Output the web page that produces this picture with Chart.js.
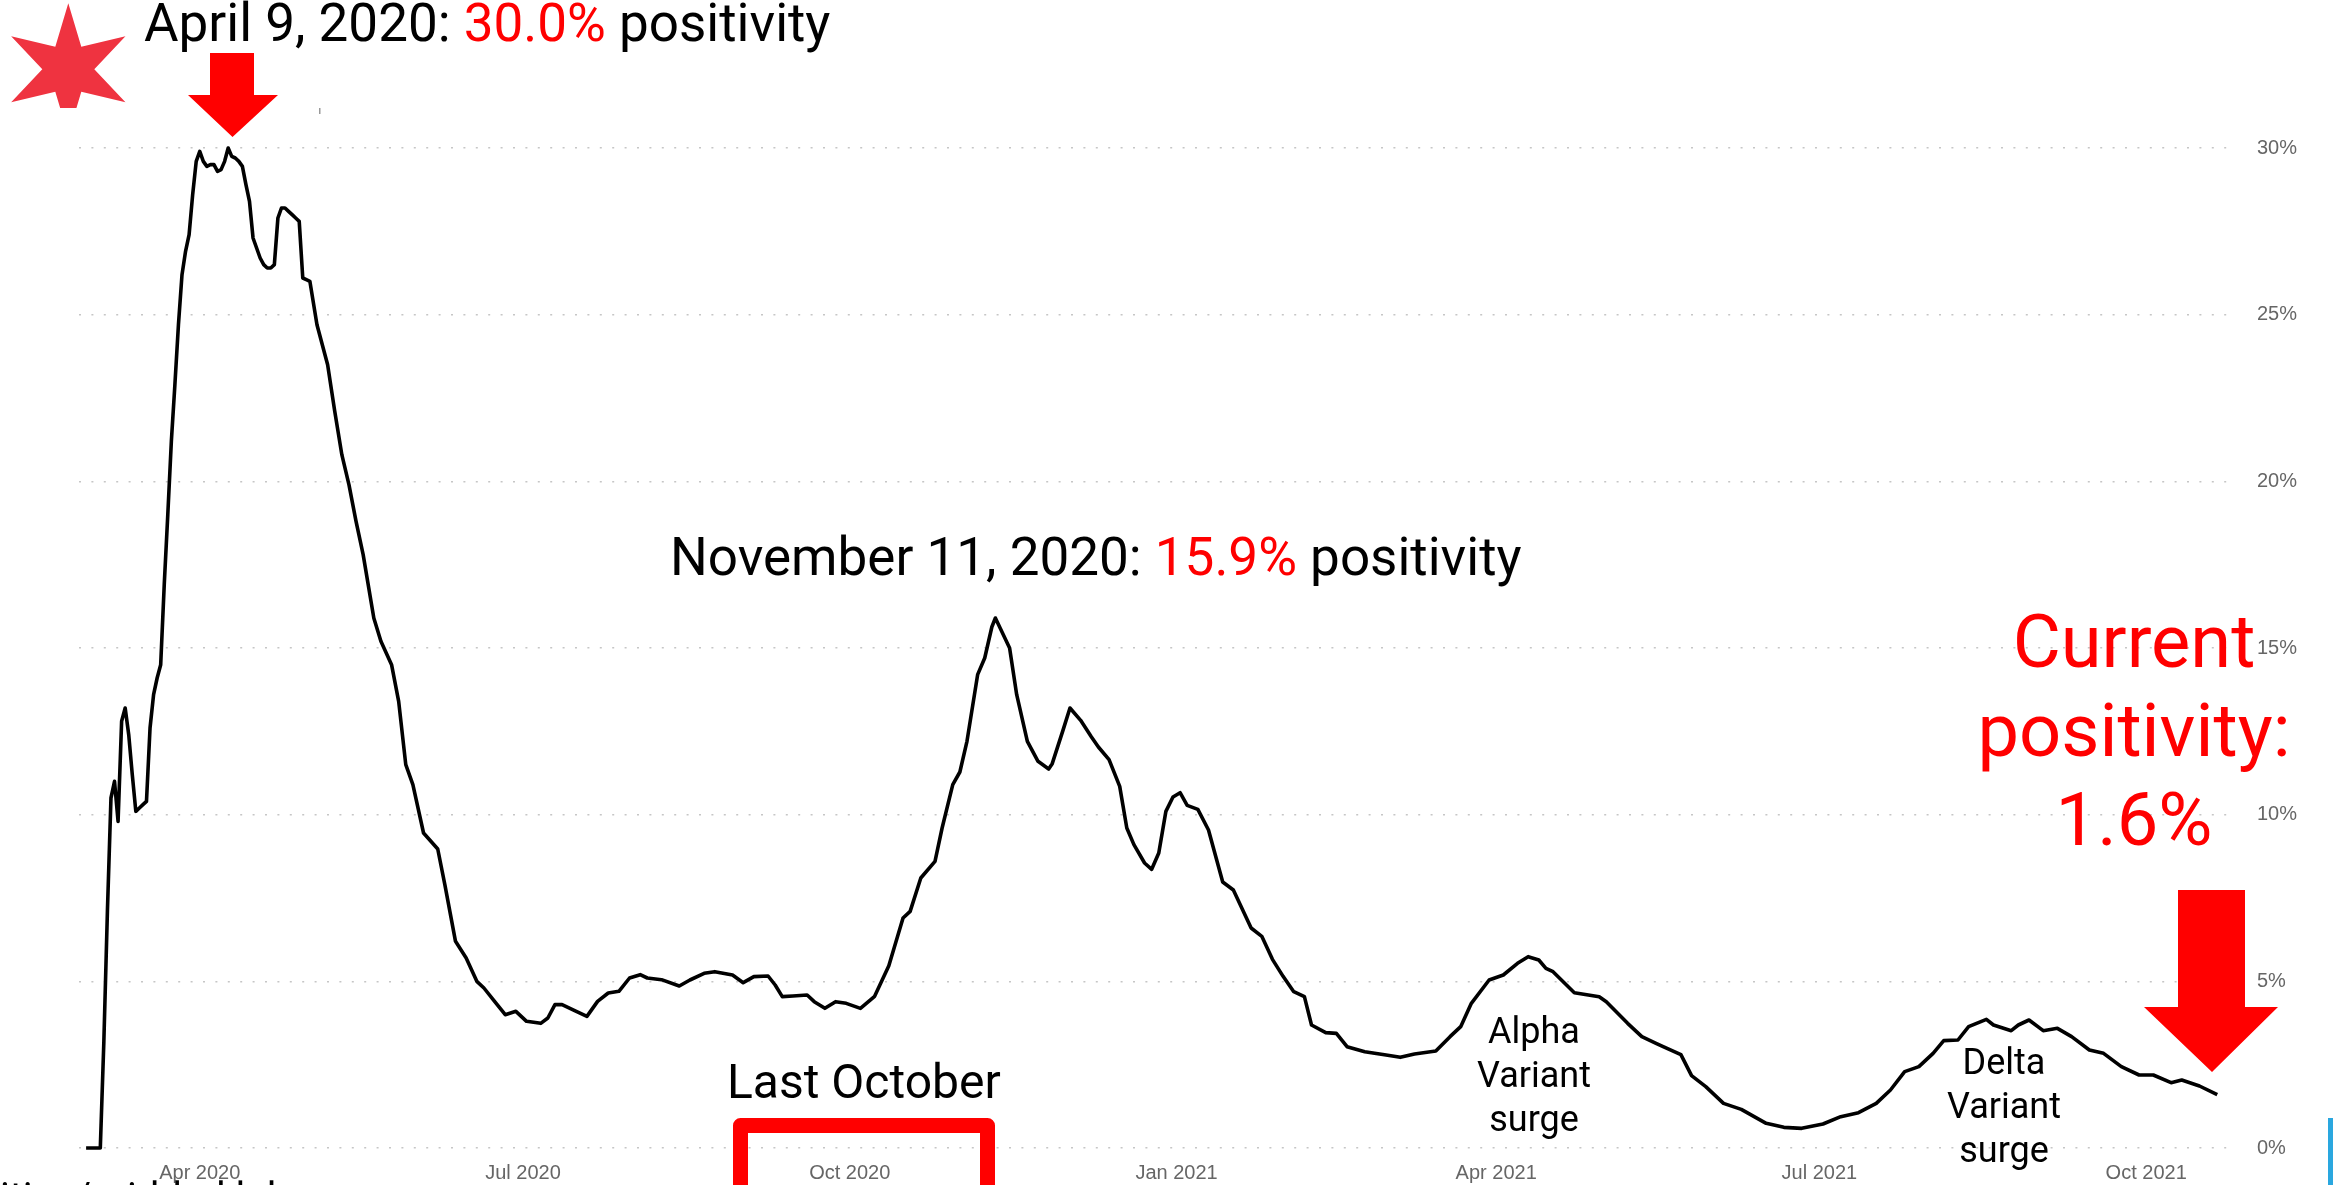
<!DOCTYPE html>
<html>
<head>
<meta charset="utf-8">
<title>Chicago COVID-19 test positivity</title>
<script src="https://cdn.jsdelivr.net/npm/chart.js@4.4.1/dist/chart.umd.min.js"></script>
<style>
    html, body { margin: 0; padding: 0; background: #fff; overflow: hidden; }
    #wrap { position: relative; width: 2333px; height: 1185px; }
</style>
</head>
<body>
<div id="wrap"><canvas id="positivityChart" width="2333" height="1185"></canvas></div>
<script>
// 7-day rolling test positivity (%)
const dates = [
    '2020-02-29', '2020-03-04', '2020-03-05', '2020-03-06', '2020-03-07', '2020-03-08', '2020-03-09',
    '2020-03-10', '2020-03-11', '2020-03-12', '2020-03-13', '2020-03-14', '2020-03-15', '2020-03-16',
    '2020-03-17', '2020-03-18', '2020-03-19', '2020-03-20', '2020-03-21', '2020-03-22', '2020-03-23',
    '2020-03-24', '2020-03-25', '2020-03-26', '2020-03-27', '2020-03-28', '2020-03-29', '2020-03-30',
    '2020-03-31', '2020-04-01', '2020-04-02', '2020-04-03', '2020-04-04', '2020-04-05', '2020-04-06',
    '2020-04-07', '2020-04-08', '2020-04-09', '2020-04-10', '2020-04-11', '2020-04-12', '2020-04-13',
    '2020-04-14', '2020-04-15', '2020-04-16', '2020-04-17', '2020-04-18', '2020-04-19', '2020-04-20',
    '2020-04-21', '2020-04-22', '2020-04-23', '2020-04-24', '2020-04-25', '2020-04-26', '2020-04-27',
    '2020-04-28', '2020-04-29', '2020-04-30', '2020-05-01', '2020-05-02', '2020-05-04', '2020-05-07',
    '2020-05-09', '2020-05-11', '2020-05-13', '2020-05-15', '2020-05-17', '2020-05-20', '2020-05-22',
    '2020-05-25', '2020-05-27', '2020-05-29', '2020-05-31', '2020-06-03', '2020-06-07', '2020-06-09',
    '2020-06-12', '2020-06-15', '2020-06-18', '2020-06-20', '2020-06-23', '2020-06-26', '2020-06-29',
    '2020-07-02', '2020-07-06', '2020-07-08', '2020-07-10', '2020-07-12', '2020-07-16', '2020-07-19',
    '2020-07-22', '2020-07-25', '2020-07-28', '2020-07-31', '2020-08-03', '2020-08-05', '2020-08-09',
    '2020-08-14', '2020-08-17', '2020-08-21', '2020-08-24', '2020-08-29', '2020-09-01', '2020-09-04',
    '2020-09-08', '2020-09-10', '2020-09-12', '2020-09-15', '2020-09-19', '2020-09-21', '2020-09-24',
    '2020-09-27', '2020-09-30', '2020-10-04', '2020-10-08', '2020-10-12', '2020-10-16', '2020-10-18',
    '2020-10-21', '2020-10-25', '2020-10-27', '2020-10-30', '2020-11-01', '2020-11-03', '2020-11-06',
    '2020-11-08', '2020-11-10', '2020-11-11', '2020-11-13', '2020-11-15', '2020-11-17', '2020-11-20',
    '2020-11-23', '2020-11-26', '2020-11-27', '2020-11-30', '2020-12-02', '2020-12-05', '2020-12-08',
    '2020-12-10', '2020-12-13', '2020-12-16', '2020-12-18', '2020-12-20', '2020-12-23', '2020-12-25',
    '2020-12-27', '2020-12-29', '2020-12-31', '2021-01-02', '2021-01-04', '2021-01-07', '2021-01-10',
    '2021-01-14', '2021-01-17', '2021-01-22', '2021-01-25', '2021-01-28', '2021-01-31', '2021-02-03',
    '2021-02-06', '2021-02-08', '2021-02-12', '2021-02-15', '2021-02-18', '2021-02-23', '2021-03-01',
    '2021-03-05', '2021-03-09', '2021-03-15', '2021-03-19', '2021-03-22', '2021-03-25', '2021-03-30',
    '2021-04-03', '2021-04-07', '2021-04-10', '2021-04-13', '2021-04-15', '2021-04-17', '2021-04-23',
    '2021-04-30', '2021-05-02', '2021-05-08', '2021-05-12', '2021-05-16', '2021-05-18', '2021-05-23',
    '2021-05-26', '2021-05-30', '2021-06-04', '2021-06-09', '2021-06-16', '2021-06-21', '2021-06-26',
    '2021-07-02', '2021-07-07', '2021-07-12', '2021-07-17', '2021-07-21', '2021-07-25', '2021-07-29',
    '2021-08-02', '2021-08-05', '2021-08-09', '2021-08-12', '2021-08-17', '2021-08-19', '2021-08-24',
    '2021-08-26', '2021-08-29', '2021-09-02', '2021-09-06', '2021-09-10', '2021-09-15', '2021-09-19',
    '2021-09-24', '2021-09-29', '2021-10-03', '2021-10-08', '2021-10-11', '2021-10-16', '2021-10-21'
];

const positivity = [
    0, 0, 3.2, 7.1, 10.5, 11.0, 9.8,
    12.8, 13.2, 12.4, 11.2, 10.1, 10.2, 10.3,
    10.4, 12.6, 13.6, 14.1, 14.5, 16.9, 19.0,
    21.2, 22.9, 24.7, 26.2, 26.9, 27.4, 28.6,
    29.6, 29.9, 29.6, 29.45, 29.5, 29.5, 29.3,
    29.35, 29.6, 30.0, 29.75, 29.7, 29.6, 29.45,
    28.9, 28.4, 27.3, 27.0, 26.7, 26.5, 26.4,
    26.4, 26.5, 27.9, 28.2, 28.2, 28.1, 28.0,
    27.9, 27.8, 26.1, 26.05, 26.0, 24.7, 23.5,
    22.1, 20.8, 19.9, 18.8, 17.8, 15.9, 15.2,
    14.5, 13.4, 11.5, 10.9, 9.45, 8.97, 7.9,
    6.2, 5.7, 5.0, 4.8, 4.4, 4.0, 4.1,
    3.8, 3.74, 3.9, 4.3, 4.3, 4.1, 3.95,
    4.4, 4.65, 4.7, 5.1, 5.2, 5.1, 5.05,
    4.86, 5.04, 5.24, 5.29, 5.19, 4.96, 5.14,
    5.16, 4.89, 4.54, 4.56, 4.59, 4.39, 4.19,
    4.39, 4.34, 4.19, 4.55, 5.47, 6.9, 7.1,
    8.1, 8.6, 9.6, 10.9, 11.28, 12.2, 14.2,
    14.7, 15.63, 15.9, 15.45, 15.0, 13.6, 12.2,
    11.6, 11.37, 11.53, 12.52, 13.2, 12.83, 12.34,
    12.03, 11.65, 10.85, 9.6, 9.1, 8.55, 8.36,
    8.85, 10.1, 10.53, 10.66, 10.28, 10.16, 9.54,
    7.98, 7.74, 6.6, 6.35, 5.66, 5.15, 4.69,
    4.54, 3.69, 3.46, 3.44, 3.04, 2.89, 2.79,
    2.72, 2.82, 2.91, 3.34, 3.64, 4.34, 5.04,
    5.19, 5.54, 5.74, 5.64, 5.39, 5.29, 4.66,
    4.54, 4.39, 3.74, 3.34, 3.14, 3.04, 2.8,
    2.17, 1.84, 1.34, 1.16, 0.74, 0.62, 0.59,
    0.72, 0.94, 1.06, 1.34, 1.74, 2.29, 2.44,
    2.84, 3.22, 3.24, 3.64, 3.86, 3.69, 3.52,
    3.69, 3.84, 3.52, 3.59, 3.34, 2.94, 2.84,
    2.44, 2.19, 2.19, 1.96, 2.04, 1.86, 1.6
];

const tickDates = ['2020-04-01', '2020-07-01', '2020-10-01', '2021-01-01', '2021-04-01', '2021-07-01', '2021-10-01'];
const tickLabels = ['Apr 2020', 'Jul 2020', 'Oct 2020', 'Jan 2021', 'Apr 2021', 'Jul 2021', 'Oct 2021'];
const axisStart = '2020-02-27';
const axisEnd = '2021-10-26';

const DAY = 86400000;
const origin = Date.parse('2020-04-01');
const dayOf = s => (Date.parse(s) - origin) / DAY;

const RED = '#ff0000';

function drawRuns(ctx, x, y, runs) {
    runs.forEach(([text, color]) => {
        ctx.fillStyle = color;
        ctx.fillText(text, x, y);
        x += ctx.measureText(text).width;
    });
}

function drawPoly(ctx, pts, color) {
    ctx.beginPath();
    pts.forEach(([x, y], i) => i ? ctx.lineTo(x, y) : ctx.moveTo(x, y));
    ctx.closePath();
    ctx.fillStyle = color;
    ctx.fill();
}

// callouts drawn on top of the chart
const annotations = {
    id: 'annotations',
    afterDraw(chart) {
        const ctx = chart.ctx;
        ctx.save();
        ctx.textAlign = 'left';
        ctx.textBaseline = 'alphabetic';

        // Chicago star, bottom point trimmed
        ctx.save();
        ctx.beginPath();
        ctx.rect(0, 0, 200, 108);
        ctx.clip();
        ctx.beginPath();
        for (let k = 0; k < 12; k++) {
            const a = -Math.PI / 2 + k * Math.PI / 6;
            const r = k % 2 ? 26 : 66;
            ctx.lineTo(68.3 + r * Math.cos(a), 69.2 + r * Math.sin(a));
        }
        ctx.closePath();
        ctx.fillStyle = '#ef3340';
        ctx.fill();
        ctx.restore();

        ctx.font = '53px Roboto';
        drawRuns(ctx, 144, 41, [['April 9, 2020: ', '#000'], ['30.0%', RED], [' positivity', '#000']]);
        drawRuns(ctx, 670, 575, [['November 11, 2020: ', '#000'], ['15.9%', RED], [' positivity', '#000']]);

        drawPoly(ctx, [[210, 53], [254, 53], [254, 95], [278, 95], [232.5, 137], [188, 95], [210, 95]], RED);
        drawPoly(ctx, [[2178, 890], [2245, 890], [2245, 1007], [2278, 1007], [2212, 1072], [2144, 1007], [2178, 1007]], RED);

        ctx.fillStyle = '#999';
        ctx.fillRect(319, 108, 1.5, 6);

        ctx.font = '48px Roboto';
        ctx.fillStyle = '#000';
        ctx.fillText('Last October', 727, 1098);

        ctx.lineWidth = 15;
        ctx.lineJoin = 'round';
        ctx.strokeStyle = RED;
        ctx.strokeRect(740.5, 1125.5, 247, 120);

        ctx.textAlign = 'center';
        ctx.font = '74px Roboto';
        ctx.fillStyle = RED;
        ['Current', 'positivity:', '1.6%'].forEach((t, i) => ctx.fillText(t, 2134, 667 + i * 89));

        ctx.font = '36px Roboto';
        ctx.fillStyle = '#000';
        ['Alpha', 'Variant', 'surge'].forEach((t, i) => ctx.fillText(t, 1534, 1043 + i * 44));
        ['Delta', 'Variant', 'surge'].forEach((t, i) => ctx.fillText(t, 2004, 1074 + i * 44));

        // caption line below the picture, only its top shows
        ctx.textAlign = 'left';
        ctx.font = '40px Roboto';
        ctx.fillText('ities/gridded lab', 0, 1211);

        ctx.fillStyle = '#2aa7df';
        ctx.fillRect(2328, 1118, 5, 67);
        ctx.restore();
    }
};

const tickFont = { family: 'Arial, "Liberation Sans", sans-serif', size: 20 };

new Chart(document.getElementById('positivityChart').getContext('2d'), {
    type: 'line',
    data: {
        datasets: [{
            label: 'Positivity',
            data: dates.map((d, i) => ({ x: dayOf(d), y: positivity[i] })),
            borderColor: '#000',
            borderWidth: 3.6,
            pointRadius: 0,
            tension: 0,
            borderJoinStyle: 'round',
            clip: false
        }]
    },
    options: {
        responsive: false,
        devicePixelRatio: 1,
        animation: false,
        layout: { padding: { left: 79, top: 148, right: 0, bottom: 0 } },
        plugins: { legend: { display: false }, tooltip: { enabled: false } },
        scales: {
            x: {
                type: 'linear',
                min: dayOf(axisStart),
                max: dayOf(axisEnd),
                grid: { display: false },
                border: { display: false },
                afterBuildTicks: scale => {
                    scale.ticks = tickDates.map(d => ({ value: dayOf(d) }));
                },
                afterFit: scale => { scale.height = 37; },
                ticks: {
                    autoSkip: false,
                    maxRotation: 0,
                    padding: 5,
                    color: '#666',
                    font: tickFont,
                    callback: (value, index) => tickLabels[index]
                }
            },
            y: {
                position: 'right',
                min: 0,
                max: 30,
                afterFit: scale => { scale.width = 98; },
                grid: { color: '#c6c6c6', lineWidth: 1.5, drawTicks: false },
                border: { display: false, dash: [2, 10.4] },
                ticks: {
                    stepSize: 5,
                    padding: 22,
                    color: '#666',
                    font: tickFont,
                    callback: value => value + '%'
                }
            }
        }
    },
    plugins: [annotations]
});
</script>
</body>
</html>
